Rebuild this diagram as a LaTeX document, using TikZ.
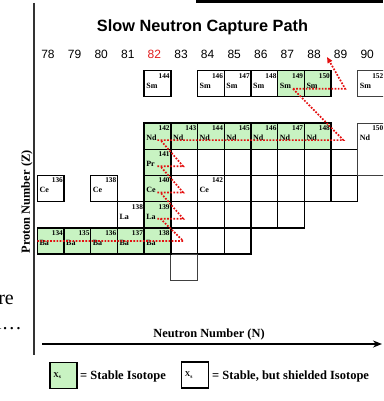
\documentclass[tikz,border=0pt]{standalone}
\usepackage{fontspec}
\setmainfont{Liberation Serif}
\newfontfamily\arialfam{Liberation Sans}
\usetikzlibrary{arrows.meta}
\definecolor{stablegreen}{RGB}{200,243,194}
\definecolor{pathred}{RGB}{228,16,16}
\definecolor{numred}{RGB}{225,30,30}
\newcommand\isolbl[3]{%
  \node[masslbl] at ([xshift=-1pt,yshift=-2.5pt]#1.north east) {#2};
  \node[elemlbl] at ([xshift=2pt,yshift=-17.5pt]#1.north west) {#3};}
\begin{document}
\begin{tikzpicture}[x=1pt,y=-1pt,
  cellbox/.style={draw=black,line width=1.4pt,minimum width=26.7pt,minimum height=26.2pt,inner sep=0pt,outer sep=0pt},
  greencell/.style={cellbox,fill=stablegreen},
  whitecell/.style={cellbox,fill=white},
  thincell/.style={cellbox,line width=0.9pt,draw=black!75},
  masslbl/.style={font=\fontsize{7.3}{8}\selectfont\bfseries,inner sep=0pt,anchor=north east},
  elemlbl/.style={font=\fontsize{8}{9}\selectfont\bfseries,inner sep=0pt,anchor=base west},
  numlbl/.style={font=\arialfam\fontsize{12}{14}\selectfont,inner sep=0pt},
  spath/.style={draw=pathred,line width=1.7pt,dash pattern=on 1.7pt off 1.5pt},
  axislbl/.style={font=\fontsize{12.4}{14}\selectfont\bfseries,inner sep=0pt},
  leglbl/.style={font=\fontsize{12.5}{14}\selectfont\bfseries,inner sep=0pt,anchor=west},
  slidetxt/.style={font=\fontsize{20}{24}\selectfont,inner sep=0pt,anchor=base east}]
\useasboundingbox (0,0) rectangle (383,401);
\clip (0,0) rectangle (383,401);
\fill[white] (0,0) rectangle (383,401);
% top bar
\fill[black] (196,0) rectangle (383,3.5);
% cut-off slide text
\node[slidetxt] (txtre) at (14,304) {re};
\node[slidetxt] (txtl) at (22,329) {l…};
% vertical line
\coordinate (vtop) at (34,3);
\coordinate (vbot) at (34,355);
\draw[line width=2pt,black!80] (vtop) -- (vbot);
% title and numbers
\node[font=\arialfam\bfseries\fontsize{16.3}{18}\selectfont,inner sep=0pt] (title) at (202.5,27) {Slow Neutron Capture Path};
\foreach \n in {78,79,80,81,83,84,...,90}
  \node[numlbl] (num\n) at ({48+26.6*(\n-78)},54) {\n};
\node[numlbl,text=numred] (num82) at ({48+26.6*4},54) {82};
% empty white cells
\foreach \z/\nmax in {59/89,58/89,57/87,56/85}
  \foreach \n in {83,...,\nmax}
    \node[whitecell] (c\n-\z) at ({50.65+26.7*(\n-78)},{136.1+26.2*(60-\z)}) {};
\node[thincell] (c83-55) at ({50.65+26.7*5},{136.1+26.2*5}) {};
% labelled white cells
\foreach \n/\z/\m/\e in {82/62/144/Sm,84/62/146/Sm,85/62/147/Sm,86/62/148/Sm,78/58/136/Ce,80/58/138/Ce,81/57/138/La}{
  \node[whitecell] (c\n-\z) at ({50.65+26.7*(\n-78)},{136.1+26.2*(60-\z)}) {};
  \isolbl{c\n-\z}{\m}{\e}}
\node[thincell,fill=white] (c90-62) at ({50.65+26.7*12},{136.1+26.2*(-2)}) {};
\isolbl{c90-62}{152}{Sm}
\node[thincell,fill=white,minimum height=52.4pt] (c90-60) at ({50.65+26.7*12},149.2) {};
\isolbl{c90-60}{150}{Nd}
\isolbl{c84-58}{142}{Ce}
% stable (green) cells
\foreach \n/\z/\m/\e in {87/62/149/Sm,88/62/150/Sm,82/60/142/Nd,83/60/143/Nd,84/60/144/Nd,85/60/145/Nd,86/60/146/Nd,87/60/147/Nd,88/60/148/Nd,82/59/141/Pr,82/58/140/Ce,82/57/139/La,78/56/134/Ba,79/56/135/Ba,80/56/136/Ba,81/56/137/Ba,82/56/138/Ba}{
  \node[greencell] (c\n-\z) at ({50.65+26.7*(\n-78)},{136.1+26.2*(60-\z)}) {};
  \isolbl{c\n-\z}{\m}{\e}}
% s-process path
\coordinate (ba139) at ([xshift=-1pt]c83-56.center);
\draw[spath] (c78-56.west) -- (ba139) -- ([xshift=3pt,yshift=-4pt]c82-57.center);
\foreach \z/\zz in {57/58,58/59,59/60}
  \draw[spath] ([yshift=-4pt]c82-\z.center) -- ([xshift=-1pt,yshift=-4pt]c83-\z.center) -- ([xshift=3pt,yshift=-4pt]c82-\zz.center);
\coordinate (nd149) at ([xshift=25.7pt,yshift=-4pt]c88-60.center);
\coordinate (sm149) at ([xshift=2pt,yshift=-5pt]c87-62.center);
\coordinate (sm151) at ([xshift=27.5pt,yshift=-5pt]c88-62.center);
\coordinate (eu151) at ([xshift=13pt,yshift=-3pt]num88.center);
\draw[spath] ([yshift=-4pt]c82-60.center) -- (nd149) -- (sm149);
\draw[spath,-{Triangle[length=6pt,width=5pt]}] (sm149) -- (sm151) -- (eu151);
% axes labels
\node[axislbl] (nlabel) at (209,335) {Neutron Number (N)};
\node[axislbl,rotate=90] (zlabel) at (27,202) {Proton Number (Z)};
\coordinate (hstart) at (42,344);
\coordinate (hend) at (382,344);
\draw[line width=2pt,-{Stealth[length=9pt,width=7pt]}] (hstart) -- (hend);
% legend
\node[cellbox,fill=stablegreen,line width=1.5pt] (leg1) at (63.5,375.5) {};
\node[font=\fontsize{7.5}{8}\selectfont\bfseries,inner sep=0pt,anchor=west] at ([xshift=3pt]leg1.west) {X\raisebox{-1.2pt}{\fontsize{5.5}{6}\selectfont s}};
\node[leglbl] (leg1t) at (80,376) {= Stable Isotope};
\node[cellbox,fill=white,line width=1.5pt] (leg2) at (195,375) {};
\node[font=\fontsize{7.5}{8}\selectfont\bfseries,inner sep=0pt,anchor=west] at ([xshift=3pt]leg2.west) {X\raisebox{-1.2pt}{\fontsize{5.5}{6}\selectfont s}};
\node[leglbl] (leg2t) at (212,376) {= Stable, but shielded Isotope};
\end{tikzpicture}
\end{document}
